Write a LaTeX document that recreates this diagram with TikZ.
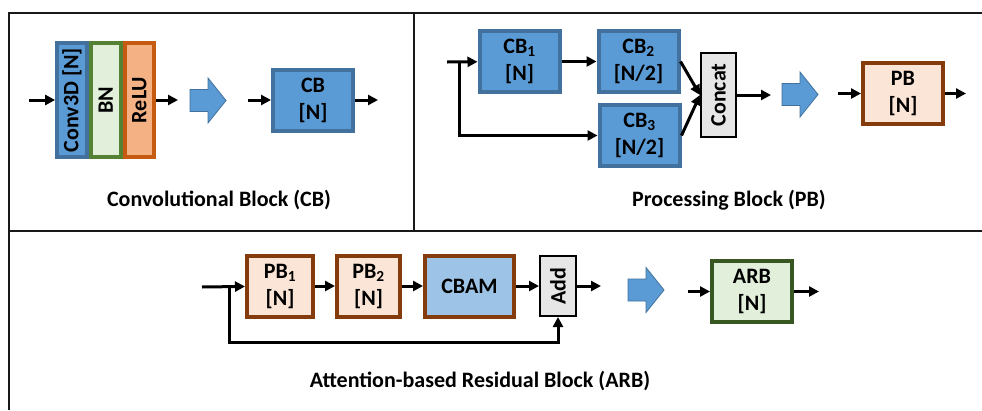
\documentclass[tikz,border=0pt]{standalone}
\usepackage{fontspec}
\setmainfont{Carlito}
\usetikzlibrary{arrows.meta,positioning}
\definecolor{cbfill}{HTML}{5B9BD5}
\definecolor{cbline}{HTML}{41719C}
\definecolor{pbfill}{HTML}{FBE5D6}
\definecolor{pbline}{HTML}{843C0C}
\definecolor{cbamfill}{HTML}{9DC3E6}
\definecolor{arbfill}{HTML}{E2EFDA}
\definecolor{arbline}{HTML}{385723}
\definecolor{bnline}{HTML}{548235}
\definecolor{relufill}{HTML}{F4B183}
\definecolor{reluline}{HTML}{C55A11}
\definecolor{opfill}{HTML}{E7E6E6}
\newcommand{\blockarrow}[1]{\draw[fatarrow, shift={#1}] (0,-11) -- (18,-11) -- (18,-22.5) -- (36,0) -- (18,22.5) -- (18,11) -- (0,11) -- cycle;}

\begin{document}
\begin{tikzpicture}[x=1pt, y=-1pt,
		every node/.style={font=\bfseries\fontsize{22}{27}\selectfont, align=center, inner sep=0pt},
		blk/.style={draw, rectangle, line width=4pt, minimum width=80pt, minimum height=61pt},
		cbbox/.style={blk, fill=cbfill, draw=cbline},
		pbbox/.style={blk, fill=pbfill, draw=pbline},
		arbbox/.style={blk, fill=arbfill, draw=arbline},
		opbox/.style={draw, rectangle, line width=2pt, fill=opfill, minimum width=35pt},
		flow/.style={line width=3pt, -{Triangle[length=10pt,width=10pt]}},
		fatarrow/.style={fill=cbfill, draw=cbline, line width=0.8pt},
		frame/.style={line width=2pt, black!90}]
	\useasboundingbox (0,0) rectangle (982,410);
	\draw[frame] (982,13) -- (9,13) -- (9,410);
	\draw[frame] (414,13) -- (414,231);
	\draw[frame] (9,231) -- (982,231);

	\node[cbbox, minimum width=29.7pt, minimum height=114pt] (conv) at (72,100) {\rotatebox{90}{Conv3D [N]}};
	\node[blk, fill=arbfill, draw=bnline, minimum width=29.7pt, minimum height=114pt] (bn) [right=0pt of conv] {\rotatebox{90}{BN}};
	\node[blk, fill=relufill, draw=reluline, minimum width=29.7pt, minimum height=114pt] (relu) [right=0pt of bn] {\rotatebox{90}{ReLU}};
	\coordinate (cin) at (29,100);
	\coordinate (cout) at (178,100);
	\draw[flow] (cin) -- (conv);
	\draw[flow] (relu) -- (cout);
	\blockarrow{(190,100.5)}
	\node[cbbox] (cb) at (313,100) {CB\\{}[N]};
	\coordinate (cbin) at (248,100);
	\coordinate (cbout) at (378,100);
	\draw[flow] (cbin) -- (cb);
	\draw[flow] (cb) -- (cbout);
	\node (cblabel) at (219,200) {Convolutional Block (CB)};

	\node[cbbox] (cb1) at (519.5,61.5) {CB\textsubscript{1}\\{}[N]};
	\node[cbbox] (cb2) [right=35pt of cb1] {CB\textsubscript{2}\\{}[N/2]};
	\node[cbbox] (cb3) [below=9pt of cb2, xshift=1pt] {CB\textsubscript{3}\\{}[N/2]};
	\node[opbox, minimum height=84pt] (cat) at (718.5,95) {\rotatebox{90}{Concat}};
	\coordinate (pin) at (447,62);
	\coordinate (pbr) at (459,62);
	\coordinate (pout) at (771,95);
	\draw[flow] (pin) -- (cb1);
	\draw[flow] (pbr) |- (cb3);
	\draw[flow] (cb1) -- (cb2);
	\draw[flow] (cb2.east) -- (cat.west);
	\draw[flow] (cb3.east) -- (cat.west);
	\draw[flow] (cat) -- (pout);
	\blockarrow{(782,94.5)}
	\node[pbbox] (pb) at (903,93.5) {PB\\{}[N]};
	\coordinate (pbin) at (838,93.5);
	\coordinate (pbout) at (966,93.5);
	\draw[flow] (pbin) -- (pb);
	\draw[flow] (pb) -- (pbout);
	\node (pblabel) at (729,200) {Processing Block (PB)};

	\node[pbbox, minimum width=66pt] (pb1) at (280,286) {PB\textsubscript{1}\\{}[N]};
	\node[pbbox, minimum width=63pt] (pb2) [right=20pt of pb1] {PB\textsubscript{2}\\{}[N]};
	\node[blk, fill=cbamfill, draw=pbline, minimum width=89pt] (cbam) [right=21pt of pb2] {CBAM};
	\node[opbox, minimum width=36pt, minimum height=60pt] (add) [right=23pt of cbam] {\rotatebox{90}{Add}};
	\coordinate (ain) at (202,287);
	\coordinate (abr) at (229,287);
	\coordinate (abot) at (229,342);
	\coordinate (aout) at (601,286);
	\draw[flow] (ain) -- (pb1);
	\draw[flow] (pb1) -- (pb2);
	\draw[flow] (pb2) -- (cbam);
	\draw[flow] (cbam) -- (add);
	\draw[flow] (abr) -- (abot) -| (add);
	\draw[flow] (add) -- (aout);
	\blockarrow{(628,290)}
	\node[arbbox] (arb) at (752,291.5) {ARB\\{}[N]};
	\coordinate (arbin) at (688,291.5);
	\coordinate (arbout) at (819,291.5);
	\draw[flow] (arbin) -- (arb);
	\draw[flow] (arb) -- (arbout);
	\node (arblabel) at (480,381) {Attention-based Residual Block (ARB)};
\end{tikzpicture}
\end{document}
